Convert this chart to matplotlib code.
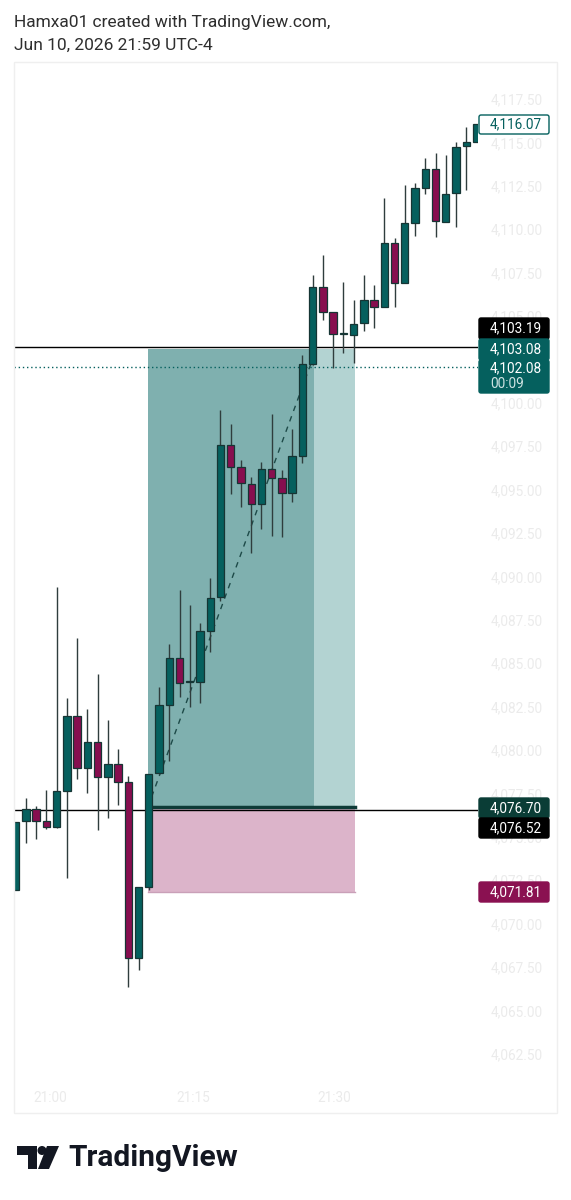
import numpy as np
import matplotlib
matplotlib.use("Agg")
import matplotlib.pyplot as plt
from matplotlib.patches import Rectangle, FancyBboxPatch, Circle, Polygon
from matplotlib.transforms import IdentityTransform

plt.rcParams["font.family"] = ["Roboto", "DejaVu Sans"]

# 1-min candles
opens = [4071.94, 4075.91, 4076.58, 4075.91, 4075.58, 4077.66, 4081.98, 4078.98, 4080.48, 4078.46,
         4079.18, 4078.14, 4068.04, 4072.09, 4078.66, 4082.59, 4085.32, 4083.94, 4083.94, 4086.86,
         4088.79, 4097.57, 4096.32, 4095.32, 4094.15, 4096.17, 4095.65, 4094.82, 4096.93, 4102.23,
         4106.69, 4105.21, 4103.95, 4103.90, 4104.58, 4105.92, 4105.54, 4109.19, 4106.88, 4110.38,
         4112.39, 4113.47, 4110.43, 4112.07, 4114.79, 4115.01]
highs = [4075.87, 4077.25, 4076.80, 4077.70, 4089.41, 4082.98, 4086.47, 4082.35, 4084.38, 4081.73,
         4080.06, 4078.50, 4072.09, 4078.60, 4083.65, 4086.11, 4089.22, 4088.35, 4087.33, 4089.89,
         4099.59, 4098.78, 4096.70, 4095.71, 4096.61, 4099.34, 4096.13, 4098.50, 4102.75, 4107.36,
         4108.51, 4105.21, 4106.98, 4105.92, 4107.36, 4106.79, 4111.78, 4109.51, 4112.55, 4112.68,
         4114.08, 4114.37, 4114.27, 4115.01, 4115.87, 4116.07]
lows = [4071.94, 4074.66, 4074.85, 4075.45, 4075.50, 4072.61, 4078.33, 4077.50, 4075.39, 4076.10,
        4076.81, 4066.33, 4067.33, 4071.94, 4078.60, 4079.37, 4083.04, 4082.50, 4082.69, 4085.66,
        4088.60, 4094.73, 4094.02, 4091.37, 4092.73, 4092.35, 4092.29, 4094.27, 4096.55, 4102.20,
        4104.77, 4101.99, 4102.85, 4102.31, 4104.14, 4104.29, 4105.50, 4105.54, 4106.88, 4109.61,
        4112.03, 4109.57, 4110.40, 4110.14, 4112.26, 4115.01]
closes = [4075.87, 4076.58, 4075.93, 4075.58, 4077.66, 4081.98, 4078.98, 4080.48, 4078.46, 4079.18,
          4078.17, 4068.04, 4072.09, 4078.60, 4082.59, 4085.32, 4083.88, 4083.94, 4086.86, 4088.77,
          4097.57, 4096.32, 4095.36, 4094.15, 4096.17, 4095.65, 4094.82, 4096.93, 4102.23, 4106.69,
          4105.21, 4103.95, 4103.95, 4104.54, 4105.92, 4105.54, 4109.19, 4106.88, 4110.34, 4112.36,
          4113.47, 4110.47, 4112.03, 4114.76, 4115.01, 4116.07]

price_ticks = np.arange(4062.5, 4117.6, 2.5)
time_labels = ["21:00", "21:15", "21:30"]
time_pos = [3.35, 17.3, 31.1]

# long position tool
entry = 4076.70
target = 4103.08
stop = 4071.81
hlines_black = [4103.19, 4076.52]
last_dotted = 4102.08

TEAL = "#05605e"
MAROON = "#870e4f"
EDGE = "#163534"
WICK = "#2f3d3d"

W, H = 571, 1200
fig = plt.figure(figsize=(W / 100, H / 100), dpi=100)
fig.patch.set_facecolor("white")

L, R, T, B = 14, 478, 63, 1080
ax = fig.add_axes([L / W, 1 - B / H, (R - L) / W, (B - T) / H])
y_top, y_bot = 4119.57, 4060.99
ax.set_ylim(y_bot, y_top)
ax.set_xlim(-0.166, 45.15)
for s in ax.spines.values():
    s.set_visible(False)

x = np.arange(len(opens))
o = np.array(opens); c = np.array(closes)
up = c >= o
cols = np.where(up, TEAL, MAROON)
bottoms = np.minimum(o, c)
heights = np.maximum(np.abs(c - o), 0.06)

# position boxes
ax.add_patch(Rectangle((12.9, entry), 29.15 - 12.9, target - entry, facecolor="#7fb0af", edgecolor="none", zorder=1))
ax.add_patch(Rectangle((29.15, entry), 33.1 - 29.15, target - entry, facecolor="#b3d3d2", edgecolor="none", zorder=1))
ax.add_patch(Rectangle((12.9, stop), 33.1 - 12.9, entry - stop, facecolor="#dcb4ca", edgecolor="none", zorder=1))
ax.plot([12.9, 33.1], [stop, stop], color="#c9a0b8", lw=1, zorder=1.5)

# horizontal lines
for v in hlines_black:
    ax.axhline(v, color="black", lw=1, zorder=2)
ax.axhline(last_dotted, color=TEAL, lw=1, ls=(0, (1, 2)), zorder=2)
ax.plot([13.3, 33.1], [entry, entry], color="#0e3b37", lw=2.5, zorder=2.5)
ax.plot([12.9, 28.8], [entry, 4102.2], color="#1d4a48", lw=1, ls=(0, (4, 4)), zorder=2.5)

# candles
ax.vlines(x, lows, highs, color=WICK, lw=1, zorder=3)
ax.bar(x, heights, bottom=bottoms, width=0.72, color=cols, edgecolor=EDGE, linewidth=0.9, zorder=4)

# axes ticks
ax.yaxis.tick_right()
ax.set_yticks(price_ticks)
ax.set_yticklabels(["{:,.2f}".format(p) for p in price_ticks])
ax.tick_params(axis="y", length=0, pad=9, labelsize=9.8, labelcolor="#ebebeb")
ax.set_xticks(time_pos)
ax.set_xticklabels(time_labels)
ax.tick_params(axis="x", length=0, pad=8, labelsize=9.8, labelcolor="#ebebeb")

# frame
fig.add_artist(Rectangle((14 / W, 1 - 1113 / H), (557 - 14) / W, (1113 - 62) / H, transform=fig.transFigure,
                         facecolor="none", edgecolor="#efefef", lw=1))

# price tags on the axis (pixel boxes)
def tag(y0, y1, text, face, tcol, edge=None, sub=None):
    fig.add_artist(FancyBboxPatch((479, H - y1), 70, y1 - y0, boxstyle="round,pad=0,rounding_size=2",
                                  transform=IdentityTransform(), facecolor=face,
                                  edgecolor=edge if edge else face, lw=1, zorder=5))
    if sub is None:
        fig.text(490 / W, 1 - (y0 + y1) / 2 / H, text, color=tcol, fontsize=9.8, va="center", ha="left", zorder=6)
    else:
        fig.text(490 / W, 1 - (y0 + 8) / H, text, color=tcol, fontsize=9.8, va="center", ha="left", zorder=6)
        fig.text(490 / W, 1 - (y0 + 24.5) / H, sub, color="#cfe3e2", fontsize=9.8, va="center", ha="left", zorder=6)

tag(115, 134, "4,116.07", "white", TEAL, edge=TEAL)
tag(318, 339, "4,103.19", "black", "white")
tag(339, 360, "4,103.08", TEAL, "white")
tag(360, 393, "4,102.08", TEAL, "white", sub="00:09")
tag(798, 818, "4,076.70", "#0a3d36", "white")
tag(818, 838, "4,076.52", "black", "white")
tag(882, 902, "4,071.81", "#8a1151", "white")

# header
fig.text(14 / W, 1 - 22 / H, "Hamxa01 created with TradingView.com,", fontsize=12.5, color="#2e2e2e", va="center")
fig.text(14 / W, 1 - 45 / H, "Jun 10, 2026 21:59 UTC-4", fontsize=12.5, color="#2e2e2e", va="center")

# TradingView logo
def P(px, py):
    return (px / W, 1 - py / H)

fig.add_artist(Polygon([P(17, 1146), P(37, 1146), P(37, 1169), P(28, 1169), P(28, 1155), P(17, 1155)],
                       closed=True, transform=fig.transFigure, facecolor="#131722", edgecolor="none"))
fig.add_artist(Polygon([P(47, 1146), P(59, 1146), P(49, 1169), P(38, 1169)],
                       closed=True, transform=fig.transFigure, facecolor="#131722", edgecolor="none"))
fig.add_artist(Circle((42, H - 1150.5), 4.5, transform=IdentityTransform(), facecolor="#131722", edgecolor="none"))
fig.text(68 / W, 1 - 1158 / H, "TradingView", fontsize=21.5, fontweight="bold", color="#131722", va="center")

fig.savefig("out.png", dpi=100, facecolor="white")
